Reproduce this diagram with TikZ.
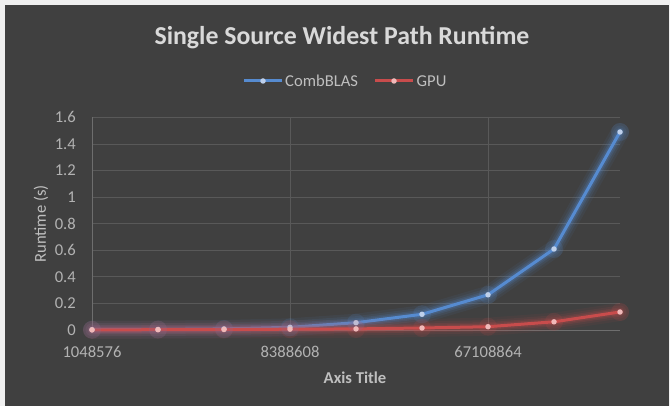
\documentclass[tikz,border=0pt]{standalone}
\usepackage{fontspec}
\setmainfont{Carlito}
\definecolor{bg}{RGB}{64,64,64}
\definecolor{frame}{RGB}{240,240,240}
\definecolor{gridc}{RGB}{89,89,89}
\definecolor{axisc}{RGB}{110,110,110}
\definecolor{titlec}{RGB}{217,217,217}
\definecolor{tickc}{RGB}{178,178,178}
\definecolor{legc}{RGB}{191,191,191}
\definecolor{blueL}{RGB}{86,139,208}
\definecolor{blueM}{RGB}{190,208,235}
\definecolor{redL}{RGB}{200,76,76}
\definecolor{redM}{RGB}{240,185,185}
\tikzset{
  gridline/.style={draw=gridc, line width=0.8pt},
  ticklbl/.style={text=tickc, font=\fontsize{16.6}{20}\selectfont, inner sep=0pt},
  leglbl/.style={text=legc, font=\fontsize{16.6}{20}\selectfont, inner sep=0pt, anchor=west},
  bluemark/.style={circle, fill=blueM, inner sep=0pt, minimum size=5.5pt},
  redmark/.style={circle, fill=redM, inner sep=0pt, minimum size=5.5pt},
}
\begin{document}
\begin{tikzpicture}[x=1pt, y=-1pt]
\useasboundingbox (0,0) rectangle (670,406);
\fill[frame] (0,0) rectangle (670,406);
\fill[bg] (5,5) rectangle (669,406);

% title
\node[text=titlec, font=\bfseries\fontsize{25.8}{30}\selectfont, inner sep=0pt] (title) at (342,38) {Single Source Widest Path Runtime};

% horizontal gridlines
\foreach \v/\lab [count=\i] in {0.2/0.2,0.4/0.4,0.6/0.6,0.8/0.8,1.0/1,1.2/1.2,1.4/1.4,1.6/1.6} {
  \pgfmathsetmacro{\yy}{330-132.9*\v}
  \draw[gridline] (92,\yy) -- (620,\yy);
  \node[ticklbl, anchor=east] (yt\i) at (76,\yy) {\lab};
}
\node[ticklbl, anchor=east] (yt0) at (76,330) {0};
% vertical gridlines
\draw[gridline] (290,117) -- (290,330);
\draw[gridline] (488,117) -- (488,330);
% axes
\draw[draw=axisc, line width=0.8pt] (92,117) -- (92,330);
\draw[draw=axisc, line width=0.8pt] (92,330) -- (620,330);

% x tick labels
\node[ticklbl] (xt1) at (92,352) {1048576};
\node[ticklbl] (xt2) at (290,352) {8388608};
\node[ticklbl] (xt3) at (488,352) {67108864};
\node[text=legc, font=\bfseries\fontsize{16.6}{20}\selectfont, inner sep=0pt] (xtitle) at (355,378) {Axis Title};
\node[text=legc, font=\fontsize{16.6}{20}\selectfont, inner sep=0pt, rotate=90] (ytitle) at (41,224) {Runtime (s)};

% data coordinates
\foreach \x/\yb/\yr [count=\i] in {92/329.7/329.9, 158/329.5/329.7, 224/328.9/329.5, 290/327.3/329.2, 356/322.7/328.9, 422/314.3/328.0, 488/294.8/326.7, 554/249/321.8, 620/132/312} {
  \coordinate (b\i) at (\x,\yb);
  \coordinate (r\i) at (\x,\yr);
}

% blue series with glow
\foreach \w/\o in {18/0.07, 13/0.10, 9/0.15, 6/0.2} {
  \draw[blueL, line width=\w pt, opacity=\o, line join=round, line cap=round]
    (b1) -- (b2) -- (b3) -- (b4) -- (b5) -- (b6) -- (b7) -- (b8) -- (b9);
}
\draw[blueL, line width=3pt, line join=round]
  (b1) -- (b2) -- (b3) -- (b4) -- (b5) -- (b6) -- (b7) -- (b8) -- (b9);

% red series with glow
\foreach \w/\o in {18/0.07, 13/0.10, 9/0.15, 6/0.2} {
  \draw[redL, line width=\w pt, opacity=\o, line join=round, line cap=round]
    (r1) -- (r2) -- (r3) -- (r4) -- (r5) -- (r6) -- (r7) -- (r8) -- (r9);
}
\draw[redL, line width=3pt, line join=round]
  (r1) -- (r2) -- (r3) -- (r4) -- (r5) -- (r6) -- (r7) -- (r8) -- (r9);

% markers
\foreach \i in {1,...,9} {
  \fill[blueL, opacity=0.15] (b\i) circle (9);
  \node[bluemark] (bm\i) at (b\i) {};
}
\foreach \i in {1,...,9} {
  \fill[redL, opacity=0.15] (r\i) circle (9);
  \node[redmark] (rm\i) at (r\i) {};
}

% legend
\coordinate (lb1) at (244,81);
\coordinate (lb2) at (282,81);
\draw[blueL, line width=3pt] (lb1) -- (lb2);
\node[bluemark] (lbm) at (263,81) {};
\node[leglbl] (lbt) at (285,81) {CombBLAS};
\coordinate (lr1) at (375,81);
\coordinate (lr2) at (413,81);
\draw[redL, line width=3pt] (lr1) -- (lr2);
\node[redmark] (lrm) at (394,81) {};
\node[leglbl] (lrt) at (416.5,81) {GPU};
\end{tikzpicture}
\end{document}
